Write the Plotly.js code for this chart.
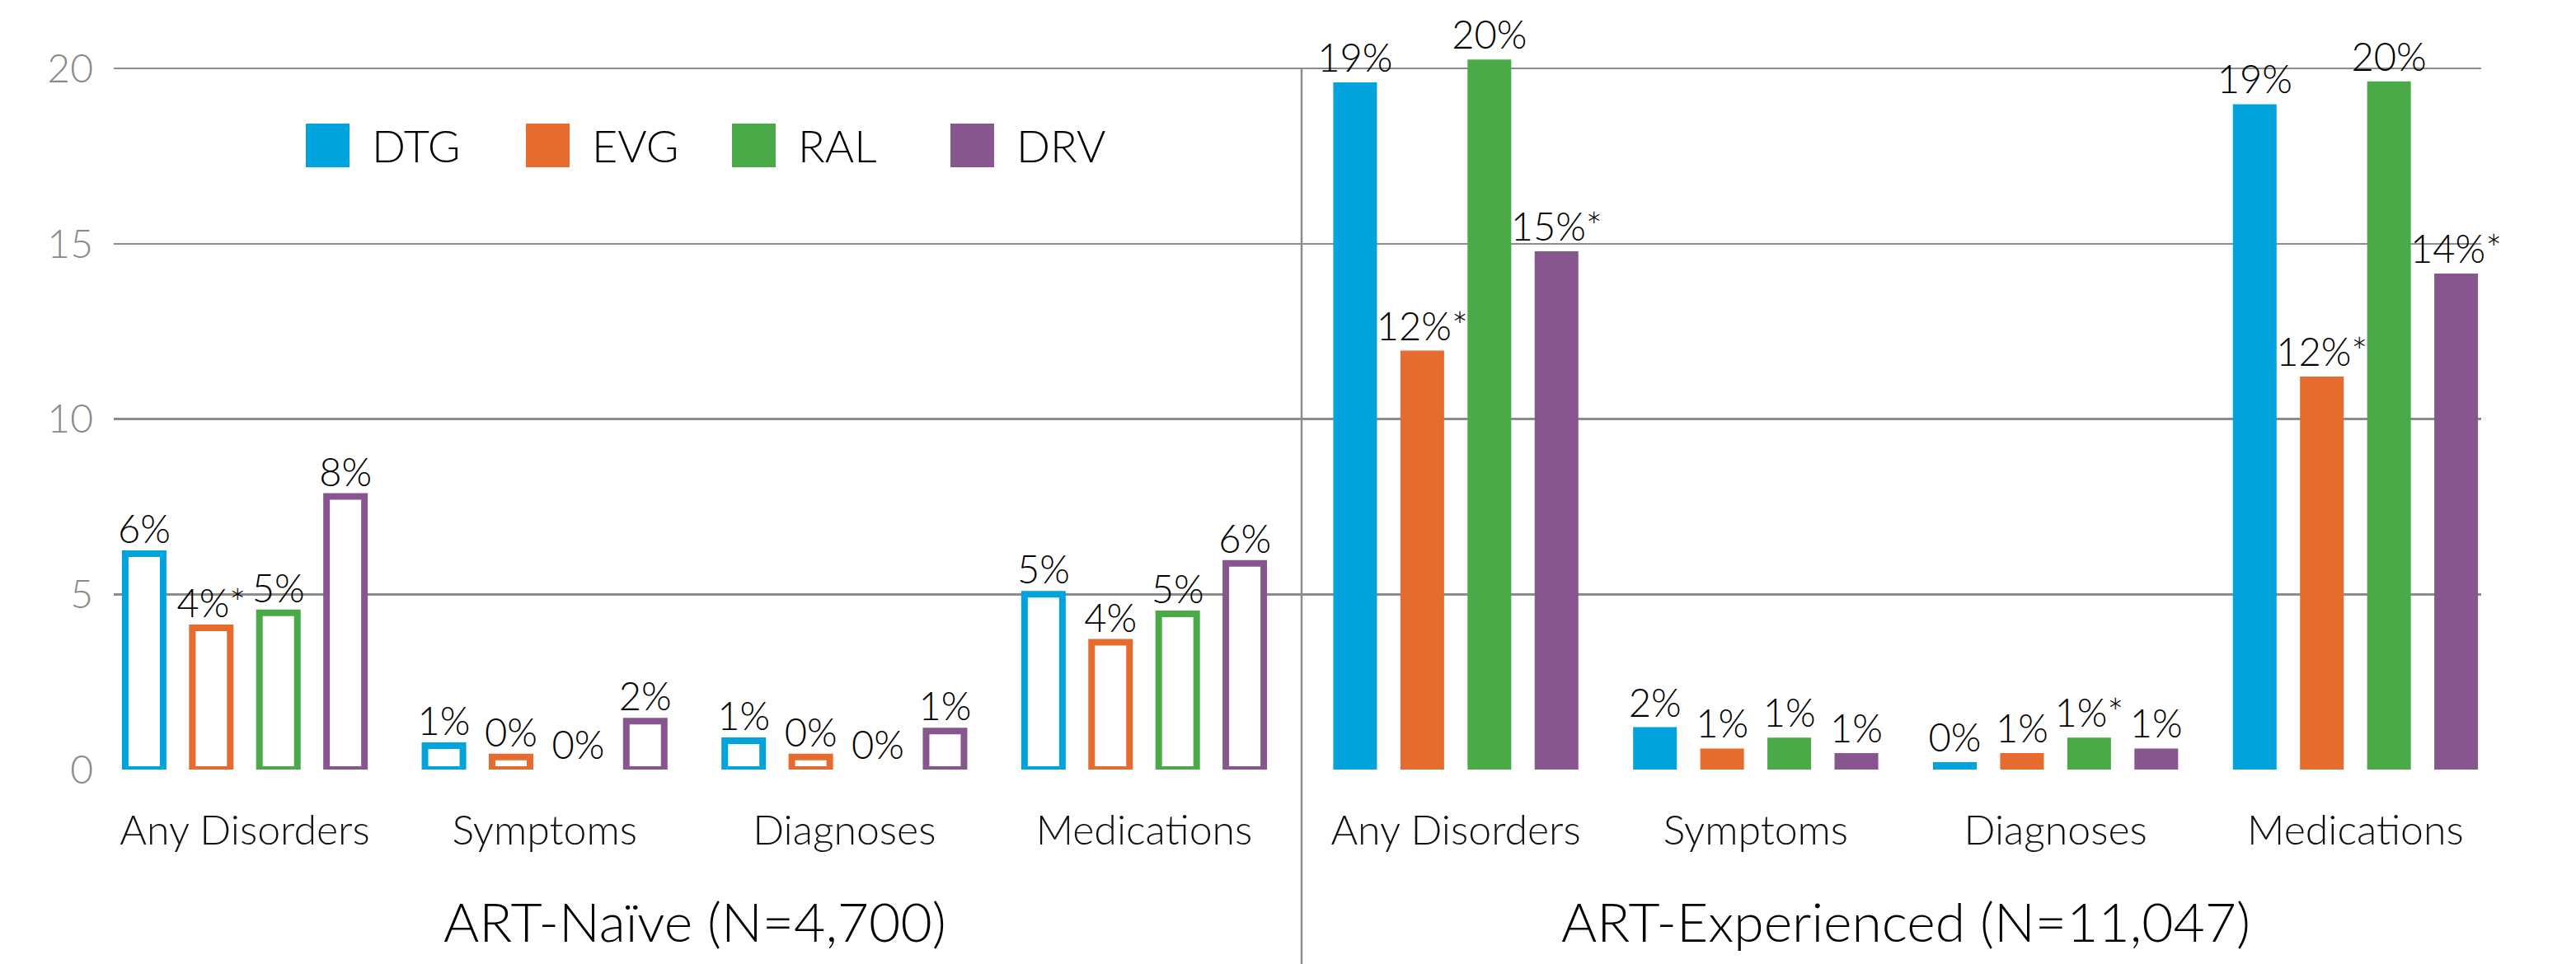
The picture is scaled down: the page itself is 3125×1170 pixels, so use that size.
<!DOCTYPE html>
<html>
<head>
<meta charset="utf-8">
<script src="https://cdn.plot.ly/plotly-3.0.1.min.js"></script>
<style>html,body{margin:0;padding:0;background:#fff;}</style>
</head>
<body>
<div id="chart" style="width:3125px;height:1170px;"></div>
<script>
// ---- data ----
const categories = ['Any Disorders', 'Symptoms', 'Diagnoses', 'Medications'];
const drugs = ['DTG', 'EVG', 'RAL', 'DRV'];
const drugColors = ['#00a3dc', '#e56b2f', '#4aaa48', '#87568f'];
const groupTitles = ['ART-Naïve (N=4,700)', 'ART-Experienced (N=11,047)'];
const yTicks = [0, 5, 10, 15, 20];

const naiveDTG = [6.16, 0.68, 0.82, 5.00];
const naiveEVG = [4.04, 0.36, 0.36, 3.63];
const naiveRAL = [4.47, 0.00, 0.00, 4.44];
const naiveDRV = [7.79, 1.38, 1.10, 5.88];
const naiveDTGLabels = ['6%', '1%', '1%', '5%'];
const naiveEVGLabels = ['4%*', '0%', '0%', '4%'];
const naiveRALLabels = ['5%', '0%', '0%', '5%'];
const naiveDRVLabels = ['8%', '2%', '1%', '6%'];

const expDTG = [19.60, 1.21, 0.21, 18.98];
const expEVG = [11.95, 0.60, 0.47, 11.21];
const expRAL = [20.25, 0.91, 0.91, 19.63];
const expDRV = [14.78, 0.47, 0.60, 14.15];
const expDTGLabels = ['19%', '2%', '0%', '19%'];
const expEVGLabels = ['12%*', '1%', '1%', '12%*'];
const expRALLabels = ['20%', '1%', '1%*', '20%'];
const expDRVLabels = ['15%*', '1%', '1%', '14%*'];

// ---- geometry (pixels) ----
const W = 3125, H = 1170;
const L = 138, R = 3010, B = 934;
const Y20 = 83;                  // pixel row of the 20 gridline
const T = 40;                    // top of plotting area (room for bars above 20)
const YMAX = 20 * (B - T) / (B - Y20);
const DIV = 1579;
const UNIT = 363.6;              // px per category
const STEP = 81.4 / UNIT;        // bar centre spacing in category units
const FILLED_W = 53 / UNIT;
const OUTLINE_LW = 8;
const OUTLINE_W = 46 / UNIT;
const split = (DIV - L) / (R - L);
const naiveRange = [-(297 - L) / UNIT, 3 + (DIV - 1388) / UNIT];
const expRange = [-(1766 - DIV) / UNIT, 3 + (R - 2857.5) / UNIT];

const FONT = 'Lato, "Open Sans", sans-serif';

const naiveVals = [naiveDTG, naiveEVG, naiveRAL, naiveDRV];
const naiveLabs = [naiveDTGLabels, naiveEVGLabels, naiveRALLabels, naiveDRVLabels];
const expVals = [expDTG, expEVG, expRAL, expDRV];
const expLabs = [expDTGLabels, expEVGLabels, expRALLabels, expDRVLabels];

const labelFont = {family: FONT, size: 47, color: '#000000', weight: 300};

const traces = [];
drugs.forEach((d, i) => {
  const centre = (i - 1.5) * STEP;
  traces.push({
    type: 'bar', name: d, x: categories, y: naiveVals[i], text: naiveLabs[i],
    xaxis: 'x', yaxis: 'y',
    width: OUTLINE_W, offset: centre - OUTLINE_W / 2,
    marker: {color: '#ffffff', line: {color: drugColors[i],
      width: naiveVals[i].map(v => v > 0 ? OUTLINE_LW : 0)}},
    textposition: 'outside', textangle: 0, constraintext: 'none', cliponaxis: false,
    textfont: labelFont, showlegend: false, hoverinfo: 'skip'
  });
});
drugs.forEach((d, i) => {
  const centre = (i - 1.5) * STEP;
  traces.push({
    type: 'bar', name: d, x: categories, y: expVals[i], text: expLabs[i],
    xaxis: 'x2', yaxis: 'y',
    width: FILLED_W, offset: centre - FILLED_W / 2,
    marker: {color: drugColors[i], line: {width: 0}},
    textposition: 'outside', textangle: 0, constraintext: 'none', cliponaxis: false,
    textfont: labelFont, showlegend: false, hoverinfo: 'skip'
  });
});

const px2x = p => (p - L) / (R - L);
const px2y = p => (B - p) / (B - T);

const shapes = [{
  type: 'line', xref: 'paper', yref: 'paper',
  x0: split, x1: split, y0: px2y(Y20), y1: px2y(H + 5),
  line: {color: '#8c8c8c', width: 2.5}, layer: 'above'
}];
const annotations = [];
const legendX = [371, 638, 888, 1153];
const SW = 53;
drugs.forEach((d, i) => {
  shapes.push({
    type: 'rect', xref: 'paper', yref: 'paper',
    x0: px2x(legendX[i]), x1: px2x(legendX[i] + SW),
    y0: px2y(150 + SW), y1: px2y(150),
    fillcolor: drugColors[i], line: {width: 0}
  });
  annotations.push({
    xref: 'paper', yref: 'paper', x: px2x(legendX[i] + SW + 25), y: px2y(176.5),
    xanchor: 'left', yanchor: 'middle', text: d, showarrow: false,
    font: {family: FONT, size: 54, color: '#000000', weight: 300}
  });
});
groupTitles.forEach((t, g) => {
  annotations.push({
    xref: g === 0 ? 'x' : 'x2', yref: 'paper', x: 1.5, y: px2y(1117),
    xanchor: 'center', yanchor: 'middle', text: t, showarrow: false,
    font: {family: FONT, size: 66, color: '#000000', weight: 300}
  });
});

const xCommon = {
  type: 'category', showgrid: false, zeroline: false, showline: false, ticks: '',
  tickfont: {family: FONT, size: 50, color: '#111111', weight: 300},
  ticklabelstandoff: 40, fixedrange: true
};

const layout = {
  width: W, height: H, autosize: false,
  paper_bgcolor: '#ffffff', plot_bgcolor: '#ffffff',
  margin: {l: L, r: W - R, t: T, b: H - B, pad: 0},
  barmode: 'overlay',
  showlegend: false,
  xaxis: Object.assign({}, xCommon, {domain: [0, split], range: naiveRange, anchor: 'y'}),
  xaxis2: Object.assign({}, xCommon, {domain: [split, 1], range: expRange, anchor: 'y'}),
  yaxis: {
    range: [0, YMAX], tickvals: yTicks, ticktext: yTicks.map(String),
    showgrid: true, gridcolor: '#8c8c8c', gridwidth: 2.5,
    zeroline: false, showline: false, ticks: '',
    tickfont: {family: FONT, size: 48, color: '#8a8a8a', weight: 300},
    ticklabelstandoff: 24, fixedrange: true
  },
  shapes: shapes,
  annotations: annotations,
  font: {family: FONT}
};

Plotly.newPlot('chart', traces, layout, {displayModeBar: false, staticPlot: true});
</script>
</body>
</html>
